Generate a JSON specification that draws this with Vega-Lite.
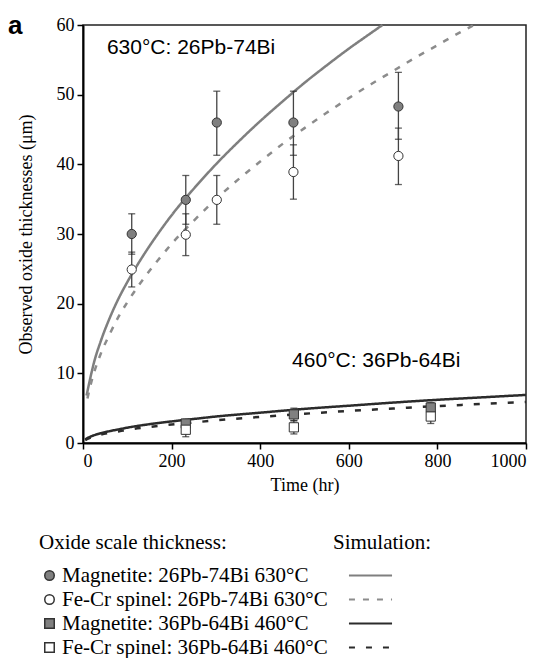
{
  "$schema": "https://vega.github.io/schema/vega-lite/v6.json",
  "width": 443,
  "height": 418,
  "autosize": {"type": "none"},
  "padding": {"left": 83, "top": 25, "right": 27, "bottom": 215},
  "background": "white",
  "title": {"text": "a", "anchor": "start", "frame": "group", "orient": "top", "offset": 0, "dx": -75, "dy": 44, "fontSize": 26, "font": "Liberation Sans", "fontWeight": "bold", "baseline": "alphabetic", "color": "black"},
  "config": {
    "view": {"stroke": "#222", "strokeWidth": 1.5},
    "axis": {"domainColor": "black", "domainWidth": 2, "tickColor": "black", "tickWidth": 1.5, "tickSize": 6, "labelFont": "Liberation Serif", "labelFontSize": 18, "labelColor": "black", "titleFont": "Liberation Serif", "titleFontSize": 18, "titleFontWeight": "normal", "titleColor": "black", "grid": false, "labelPadding": 3},
    "legend": {"orient": "none", "titleFont": "Liberation Serif", "titleFontSize": 21, "titleFontWeight": "normal", "titleColor": "black", "titleLimit": 400, "labelFont": "Liberation Serif", "labelFontSize": 21, "labelColor": "black", "rowPadding": 2, "titlePadding": 12, "labelLimit": 400}
  },
  "datasets": {
    "obs": [
      {"series": "Magnetite: 26Pb-74Bi 630°C", "t": 110, "y": 30.0, "lo": 27.1, "hi": 32.9},
      {"series": "Magnetite: 26Pb-74Bi 630°C", "t": 232, "y": 34.9, "lo": 31.4, "hi": 38.4},
      {"series": "Magnetite: 26Pb-74Bi 630°C", "t": 302, "y": 46.0, "lo": 41.3, "hi": 50.5},
      {"series": "Magnetite: 26Pb-74Bi 630°C", "t": 475, "y": 46.0, "lo": 41.3, "hi": 50.5},
      {"series": "Magnetite: 26Pb-74Bi 630°C", "t": 712, "y": 48.3, "lo": 43.6, "hi": 53.2},
      {"series": "Fe-Cr spinel: 26Pb-74Bi 630°C", "t": 110, "y": 24.9, "lo": 22.4, "hi": 27.4},
      {"series": "Fe-Cr spinel: 26Pb-74Bi 630°C", "t": 232, "y": 29.9, "lo": 26.9, "hi": 32.9},
      {"series": "Fe-Cr spinel: 26Pb-74Bi 630°C", "t": 302, "y": 34.9, "lo": 31.4, "hi": 38.4},
      {"series": "Fe-Cr spinel: 26Pb-74Bi 630°C", "t": 475, "y": 38.9, "lo": 35.0, "hi": 42.8},
      {"series": "Fe-Cr spinel: 26Pb-74Bi 630°C", "t": 712, "y": 41.2, "lo": 37.1, "hi": 45.2},
      {"series": "Magnetite: 36Pb-64Bi 460°C", "t": 232, "y": 2.8, "lo": 2.4, "hi": 3.2},
      {"series": "Magnetite: 36Pb-64Bi 460°C", "t": 476, "y": 4.1, "lo": 3.2, "hi": 5.0},
      {"series": "Magnetite: 36Pb-64Bi 460°C", "t": 785, "y": 5.1, "lo": 4.4, "hi": 5.8},
      {"series": "Fe-Cr spinel: 36Pb-64Bi 460°C", "t": 232, "y": 1.9, "lo": 0.9, "hi": 2.9},
      {"series": "Fe-Cr spinel: 36Pb-64Bi 460°C", "t": 476, "y": 2.25, "lo": 1.3, "hi": 3.2},
      {"series": "Fe-Cr spinel: 36Pb-64Bi 460°C", "t": 785, "y": 3.8, "lo": 2.8, "hi": 4.8}
    ],
    "sim": [
      {"sim": "s630m", "t": 8, "v": 6.8}, {"sim": "s630m", "t": 15, "v": 8.9}, {"sim": "s630m", "t": 25, "v": 11.6}, {"sim": "s630m", "t": 40, "v": 14.6}, {"sim": "s630m", "t": 60, "v": 17.9}, {"sim": "s630m", "t": 80, "v": 20.7}, {"sim": "s630m", "t": 100, "v": 23.1}, {"sim": "s630m", "t": 130, "v": 26.3}, {"sim": "s630m", "t": 170, "v": 30.1}, {"sim": "s630m", "t": 210, "v": 33.5}, {"sim": "s630m", "t": 250, "v": 36.5}, {"sim": "s630m", "t": 300, "v": 40.0}, {"sim": "s630m", "t": 350, "v": 43.2}, {"sim": "s630m", "t": 400, "v": 46.2}, {"sim": "s630m", "t": 450, "v": 49.0}, {"sim": "s630m", "t": 500, "v": 51.7}, {"sim": "s630m", "t": 550, "v": 54.2}, {"sim": "s630m", "t": 600, "v": 56.6}, {"sim": "s630m", "t": 640, "v": 58.4}, {"sim": "s630m", "t": 676, "v": 60.0},
      {"sim": "s630s", "t": 10, "v": 6.4}, {"sim": "s630s", "t": 15, "v": 7.8}, {"sim": "s630s", "t": 25, "v": 10.1}, {"sim": "s630s", "t": 40, "v": 12.8}, {"sim": "s630s", "t": 60, "v": 15.6}, {"sim": "s630s", "t": 80, "v": 18.1}, {"sim": "s630s", "t": 100, "v": 20.2}, {"sim": "s630s", "t": 130, "v": 23.0}, {"sim": "s630s", "t": 170, "v": 26.3}, {"sim": "s630s", "t": 210, "v": 29.3}, {"sim": "s630s", "t": 250, "v": 31.9}, {"sim": "s630s", "t": 300, "v": 35.0}, {"sim": "s630s", "t": 350, "v": 37.8}, {"sim": "s630s", "t": 400, "v": 40.4}, {"sim": "s630s", "t": 450, "v": 42.9}, {"sim": "s630s", "t": 500, "v": 45.2}, {"sim": "s630s", "t": 550, "v": 47.4}, {"sim": "s630s", "t": 600, "v": 49.5}, {"sim": "s630s", "t": 650, "v": 51.5}, {"sim": "s630s", "t": 700, "v": 53.4}, {"sim": "s630s", "t": 750, "v": 55.3}, {"sim": "s630s", "t": 800, "v": 57.1}, {"sim": "s630s", "t": 850, "v": 58.9}, {"sim": "s630s", "t": 880, "v": 59.9},
      {"sim": "s460m", "t": 5, "v": 0.5}, {"sim": "s460m", "t": 10, "v": 0.7}, {"sim": "s460m", "t": 20, "v": 1.0}, {"sim": "s460m", "t": 40, "v": 1.4}, {"sim": "s460m", "t": 60, "v": 1.7}, {"sim": "s460m", "t": 80, "v": 1.95}, {"sim": "s460m", "t": 100, "v": 2.2}, {"sim": "s460m", "t": 150, "v": 2.7}, {"sim": "s460m", "t": 200, "v": 3.1}, {"sim": "s460m", "t": 250, "v": 3.45}, {"sim": "s460m", "t": 300, "v": 3.8}, {"sim": "s460m", "t": 400, "v": 4.35}, {"sim": "s460m", "t": 500, "v": 4.9}, {"sim": "s460m", "t": 600, "v": 5.35}, {"sim": "s460m", "t": 700, "v": 5.8}, {"sim": "s460m", "t": 800, "v": 6.2}, {"sim": "s460m", "t": 900, "v": 6.55}, {"sim": "s460m", "t": 1000, "v": 6.9},
      {"sim": "s460s", "t": 5, "v": 0.42}, {"sim": "s460s", "t": 10, "v": 0.6}, {"sim": "s460s", "t": 20, "v": 0.85}, {"sim": "s460s", "t": 40, "v": 1.2}, {"sim": "s460s", "t": 60, "v": 1.45}, {"sim": "s460s", "t": 80, "v": 1.65}, {"sim": "s460s", "t": 100, "v": 1.9}, {"sim": "s460s", "t": 150, "v": 2.3}, {"sim": "s460s", "t": 200, "v": 2.65}, {"sim": "s460s", "t": 250, "v": 2.95}, {"sim": "s460s", "t": 300, "v": 3.25}, {"sim": "s460s", "t": 400, "v": 3.75}, {"sim": "s460s", "t": 500, "v": 4.2}, {"sim": "s460s", "t": 600, "v": 4.6}, {"sim": "s460s", "t": 700, "v": 4.95}, {"sim": "s460s", "t": 800, "v": 5.3}, {"sim": "s460s", "t": 900, "v": 5.6}, {"sim": "s460s", "t": 1000, "v": 5.9}
    ],
    "notes": [
      {"label": "630°C: 26Pb-74Bi", "t": 54, "v": 56.7},
      {"label": "460°C: 36Pb-64Bi", "t": 472, "v": 11.8}
    ]
  },
  "layer": [
    {
      "data": {"name": "sim"},
      "mark": {"type": "line", "interpolate": "monotone", "strokeWidth": 2.5},
      "encoding": {
        "x": {"field": "t", "type": "quantitative", "scale": {"domain": [0, 1000], "nice": false},
          "axis": {"title": "Time (hr)", "values": [0, 200, 400, 600, 800, 1000], "format": "d", "titlePadding": 6, "labelFont": "Liberation Serif", "titleFont": "Liberation Serif", "labelFontSize": 18, "titleFontSize": 18, "labelColor": "black", "titleColor": "black"}},
        "y": {"field": "v", "type": "quantitative", "scale": {"domain": [0, 60], "nice": false},
          "axis": {"title": "Observed oxide thicknesses (μm)", "values": [0, 10, 20, 30, 40, 50, 60], "format": "d", "titlePadding": 21, "labelFont": "Liberation Serif", "titleFont": "Liberation Serif", "labelFontSize": 18, "titleFontSize": 18, "labelColor": "black", "titleColor": "black"}},
        "stroke": {"field": "sim", "type": "nominal", "scale": {"domain": ["s630m", "s630s", "s460m", "s460s"], "range": ["#7f7f7f", "#8c8c8c", "#2b2b2b", "#2b2b2b"]},
          "legend": {"title": "Simulation:", "legendX": 250, "legendY": 507, "symbolType": "M-4,0H4", "symbolSize": 116, "symbolStrokeWidth": 2, "symbolOffset": 27, "labelColor": "transparent",
            "encode": {"symbols": {"update": {"stroke": {"signal": "datum.value === 's630m' ? '#7f7f7f' : 'black'"}, "strokeDash": {"signal": "datum.value === 's630m' || datum.value === 's460m' ? [] : [9, 7]"}}}}}},
        "strokeDash": {"field": "sim", "type": "nominal", "scale": {"domain": ["s630m", "s630s", "s460m", "s460s"], "range": [[1, 0], [6, 8], [1, 0], [6, 11]]}}
      }
    },
    {
      "data": {"name": "obs"},
      "mark": {"type": "rule", "color": "#444", "strokeWidth": 1.3},
      "encoding": {
        "x": {"field": "t", "type": "quantitative"},
        "y": {"field": "lo", "type": "quantitative"},
        "y2": {"field": "hi"}
      }
    },
    {
      "data": {"name": "obs"},
      "mark": {"type": "tick", "orient": "horizontal", "color": "#222", "size": 7, "thickness": 1.3},
      "encoding": {
        "x": {"field": "t", "type": "quantitative"},
        "y": {"field": "lo", "type": "quantitative"}
      }
    },
    {
      "data": {"name": "obs"},
      "mark": {"type": "tick", "orient": "horizontal", "color": "#222", "size": 7, "thickness": 1.3},
      "encoding": {
        "x": {"field": "t", "type": "quantitative"},
        "y": {"field": "hi", "type": "quantitative"}
      }
    },
    {
      "data": {"name": "obs"},
      "mark": {"type": "point", "filled": true, "stroke": "#333", "strokeWidth": 1, "opacity": 1, "size": 85},
      "encoding": {
        "x": {"field": "t", "type": "quantitative"},
        "y": {"field": "y", "type": "quantitative"},
        "shape": {"field": "series", "type": "nominal", "scale": {"domain": ["Magnetite: 26Pb-74Bi 630°C", "Fe-Cr spinel: 26Pb-74Bi 630°C", "Magnetite: 36Pb-64Bi 460°C", "Fe-Cr spinel: 36Pb-64Bi 460°C"], "range": ["circle", "circle", "square", "square"]},
          "legend": {"title": "Oxide scale thickness:", "legendX": -44, "legendY": 507, "symbolSize": 90, "labelOffset": 2}},
        "fill": {"field": "series", "type": "nominal", "scale": {"domain": ["Magnetite: 26Pb-74Bi 630°C", "Fe-Cr spinel: 26Pb-74Bi 630°C", "Magnetite: 36Pb-64Bi 460°C", "Fe-Cr spinel: 36Pb-64Bi 460°C"], "range": ["#808080", "white", "#808080", "white"]}}
      }
    },
    {
      "data": {"name": "notes"},
      "mark": {"type": "text", "align": "left", "baseline": "middle", "font": "Liberation Sans", "fontSize": 21, "color": "black"},
      "encoding": {
        "x": {"field": "t", "type": "quantitative"},
        "y": {"field": "v", "type": "quantitative"},
        "text": {"field": "label", "type": "nominal"}
      }
    }
  ]
}
